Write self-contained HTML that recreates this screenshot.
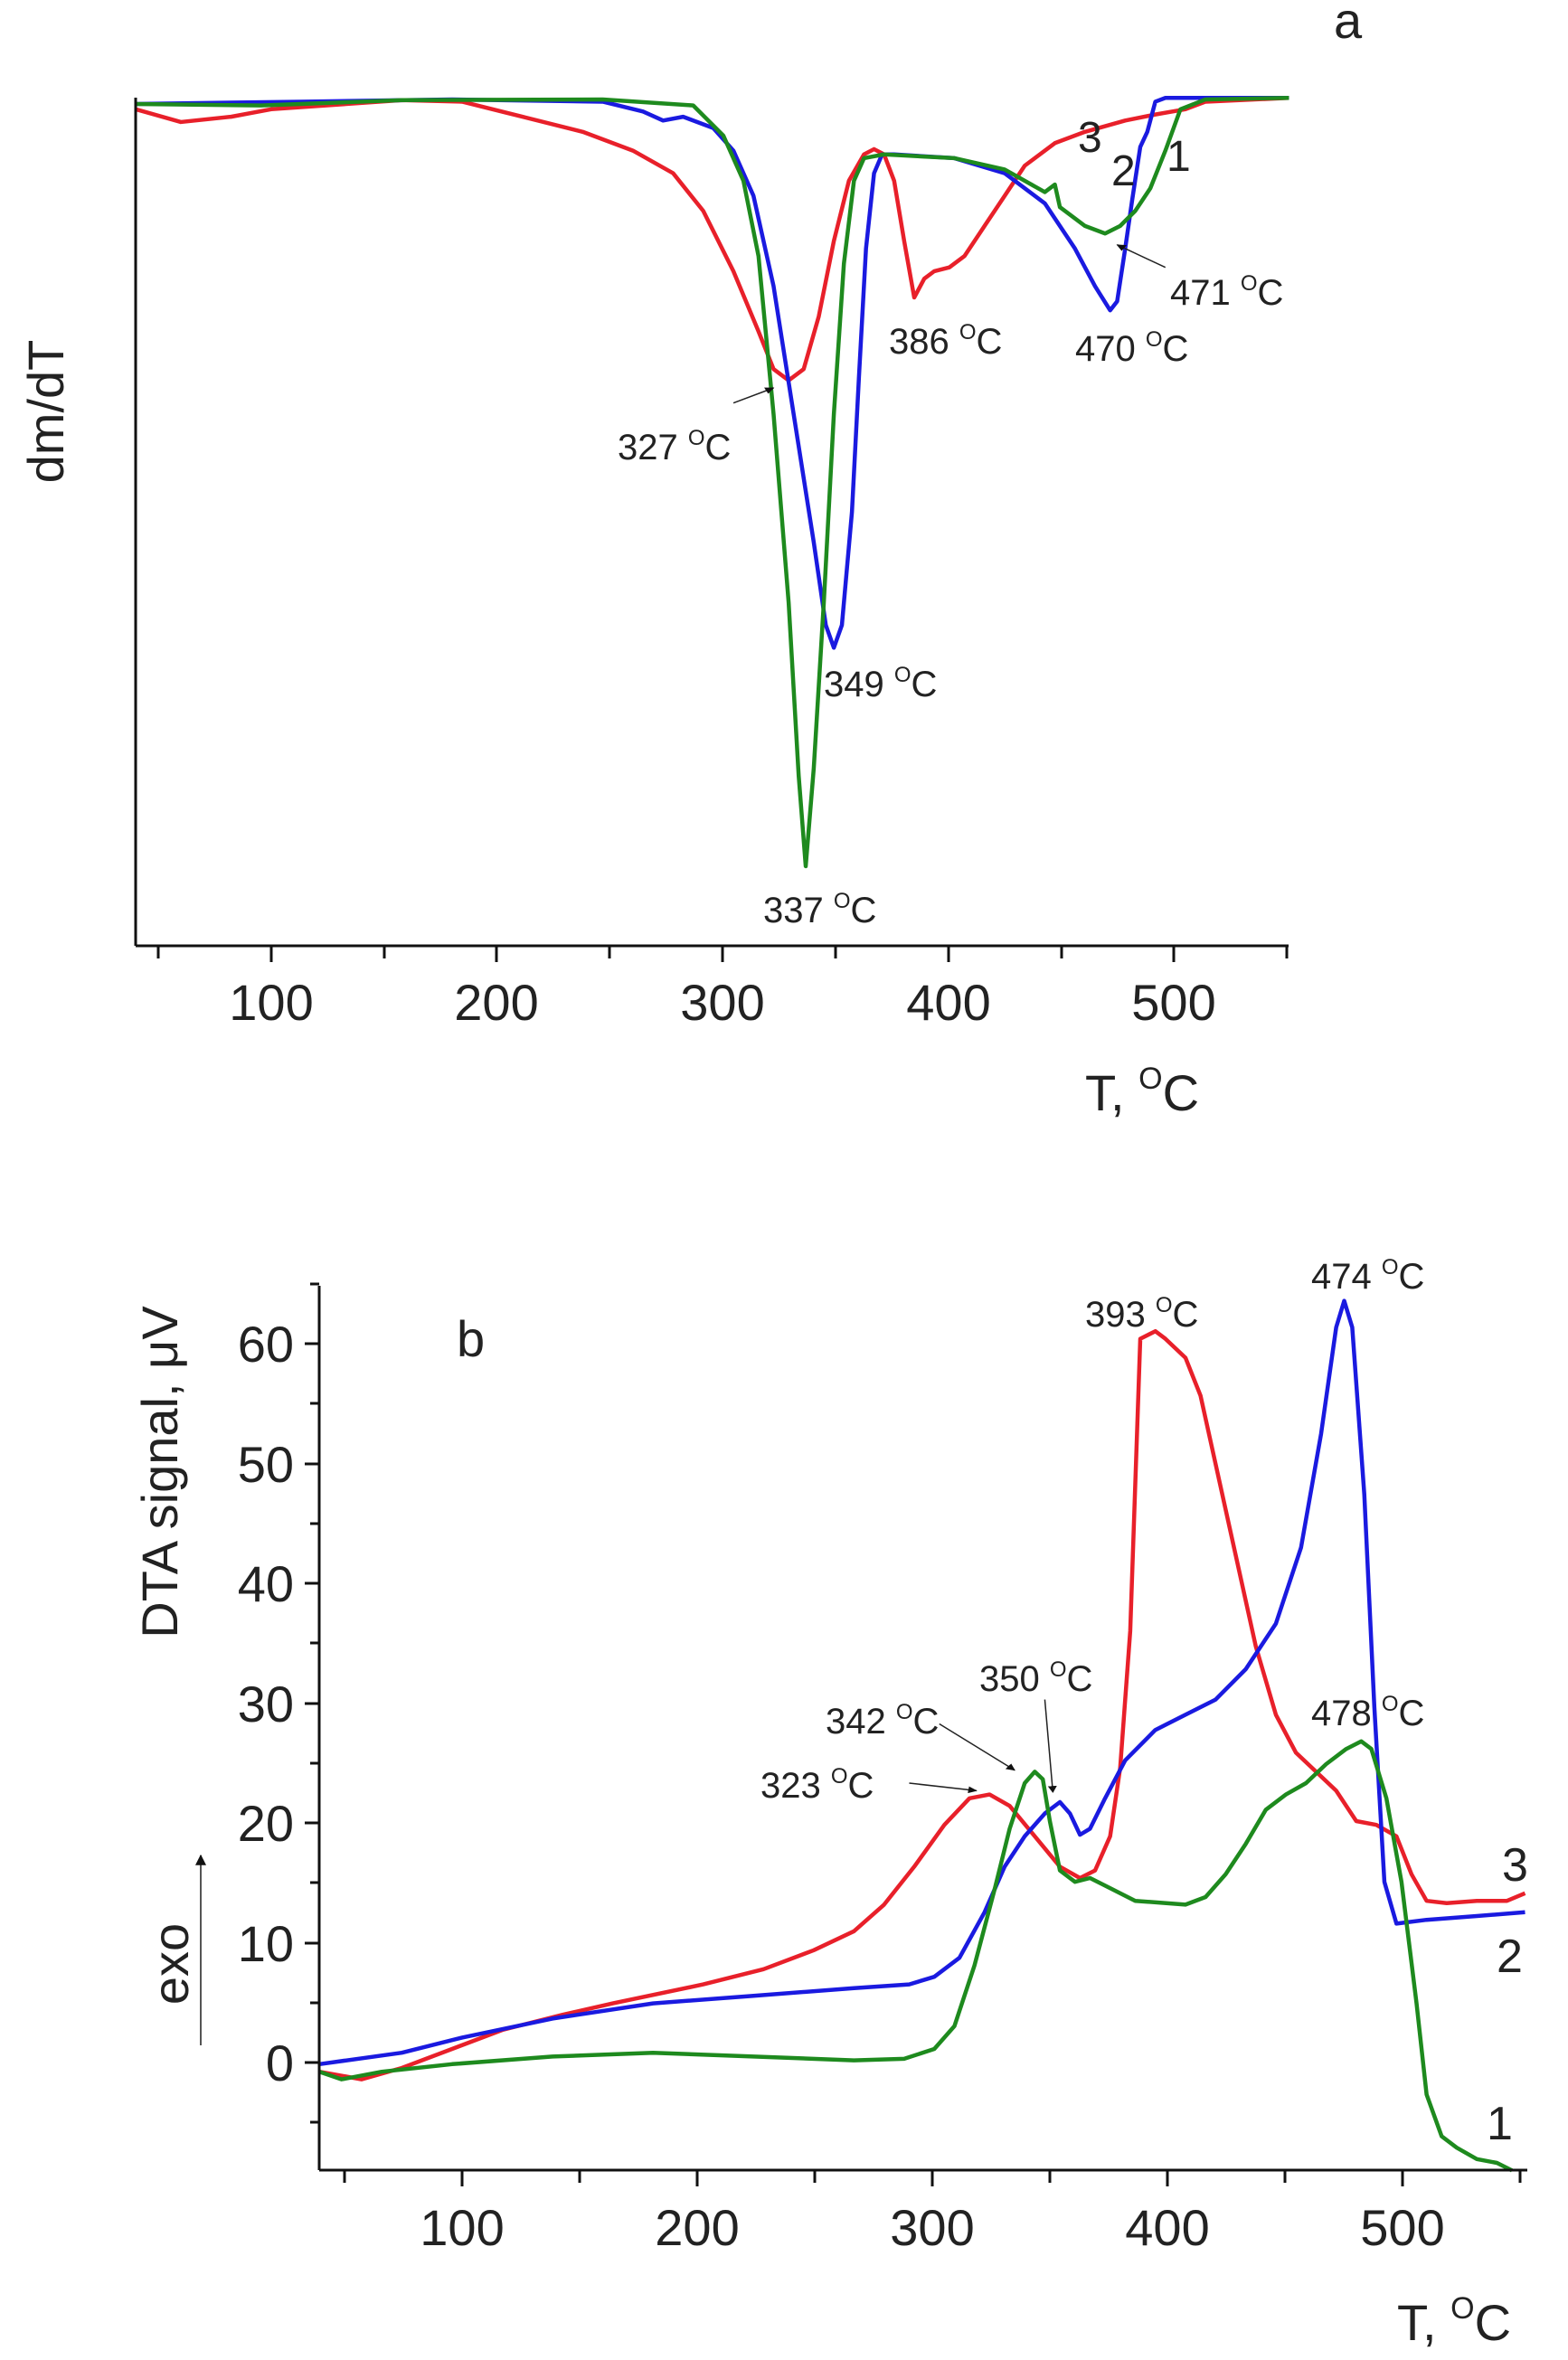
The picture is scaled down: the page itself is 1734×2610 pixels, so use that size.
<!DOCTYPE html>
<html><head><meta charset="utf-8"><style>
html,body{margin:0;padding:0;background:#fff;}
svg{display:block;}
text{font-family:"Liberation Sans",sans-serif;fill:#222;}
.lb{font-size:40px;}
.tk{font-size:56px;}
</style></head><body>
<svg width="1734" height="2610" viewBox="0 0 1734 2610" xmlns="http://www.w3.org/2000/svg">
<defs>
<marker id="ah" viewBox="0 0 10 10" refX="9" refY="5" markerWidth="6" markerHeight="6" orient="auto"><path d="M0,0L10,5L0,10z" fill="#111"/></marker>
</defs>
<!-- ===== Chart a ===== -->
<g transform="scale(1.111,0.833)" fill="none" stroke-width="4.5" stroke-linejoin="round">
<polyline vector-effect="non-scaling-stroke" stroke="#e8202a" points="135,145 180,162 230,155 270,145 400,133 460,135 520,155 580,175 630,200 670,230 700,280 730,360 755,440 770,490 785,505 800,490 815,420 830,320 845,240 860,205 870,198 880,205 890,240 900,320 910,395 920,370 930,360 945,355 960,340 980,300 1000,260 1020,220 1050,190 1080,175 1120,160 1150,152 1180,145 1200,135 1283,130"/>
<polyline vector-effect="non-scaling-stroke" stroke="#1a1ae0" points="135,138 300,135 450,132 600,135 640,148 660,160 680,155 710,170 730,200 750,260 770,380 790,550 810,720 822,830 830,860 838,830 848,680 855,500 862,330 870,230 878,205 890,205 950,210 1000,230 1040,270 1070,330 1090,380 1105,412 1112,400 1120,330 1127,265 1135,195 1142,175 1150,135 1160,130 1283,130"/>
<polyline vector-effect="non-scaling-stroke" stroke="#1e8a1e" points="135,138 260,140 400,133 600,132 690,140 720,180 740,240 755,340 770,550 785,800 795,1030 802,1150 810,1020 820,800 830,550 840,350 850,240 860,210 880,205 950,210 1000,225 1040,255 1050,245 1055,275 1080,300 1100,310 1115,300 1130,280 1145,250 1160,200 1175,145 1200,132 1283,130"/>
<line vector-effect="non-scaling-stroke" stroke="#222" stroke-width="1.5" x1="730" y1="535" x2="770" y2="515" marker-end="url(#ah)"/>
<line vector-effect="non-scaling-stroke" stroke="#222" stroke-width="1.5" x1="1160" y1="355" x2="1112" y2="325" marker-end="url(#ah)"/>
</g>
<g stroke="#111" stroke-width="3">
<line x1="150" y1="108" x2="150" y2="1046"/>
<line x1="150" y1="1046" x2="1425" y2="1046"/>
</g>
<g stroke="#111" stroke-width="3">
<line x1="175" y1="1046" x2="175" y2="1060"/><line x1="300" y1="1046" x2="300" y2="1064"/><line x1="425" y1="1046" x2="425" y2="1060"/><line x1="549" y1="1046" x2="549" y2="1064"/><line x1="674" y1="1046" x2="674" y2="1060"/><line x1="799" y1="1046" x2="799" y2="1064"/><line x1="924" y1="1046" x2="924" y2="1060"/><line x1="1049" y1="1046" x2="1049" y2="1064"/><line x1="1174" y1="1046" x2="1174" y2="1060"/><line x1="1298" y1="1046" x2="1298" y2="1064"/><line x1="1423" y1="1046" x2="1423" y2="1060"/>
</g>
<g class="tk" text-anchor="middle">
<text x="300" y="1128">100</text><text x="549" y="1128">200</text><text x="799" y="1128">300</text><text x="1049" y="1128">400</text><text x="1298" y="1128">500</text>
</g>
<text class="tk" x="1200" y="1228">T, <tspan font-size="34" dy="-24">O</tspan><tspan dy="24">C</tspan></text>
<text class="tk" x="1475" y="42">a</text>
<text class="tk" transform="translate(70,455) rotate(-90)" text-anchor="middle">dm/dT</text>
<g class="lb">
<text x="683" y="508">327 <tspan font-size="24" dy="-16">O</tspan><tspan dy="16">C</tspan></text>
<text x="911" y="770">349 <tspan font-size="24" dy="-16">O</tspan><tspan dy="16">C</tspan></text>
<text x="844" y="1020">337 <tspan font-size="24" dy="-16">O</tspan><tspan dy="16">C</tspan></text>
<text x="983" y="391">386 <tspan font-size="24" dy="-16">O</tspan><tspan dy="16">C</tspan></text>
<text x="1189" y="399">470 <tspan font-size="24" dy="-16">O</tspan><tspan dy="16">C</tspan></text>
<text x="1294" y="337">471 <tspan font-size="24" dy="-16">O</tspan><tspan dy="16">C</tspan></text>
</g>
<g font-size="48"><text x="1192" y="168">3</text><text x="1229" y="205">2</text><text x="1290" y="189">1</text></g>

<!-- ===== Chart b ===== -->
<g transform="translate(0,1300) scale(1.111,0.84)" fill="none" stroke-width="4.5" stroke-linejoin="round">
<polyline vector-effect="non-scaling-stroke" stroke="#e8202a" points="318,1180 360,1190 400,1175 450,1150 500,1125 560,1105 610,1090 700,1065 760,1045 810,1020 850,995 880,960 910,910 940,855 965,820 985,815 1005,830 1030,870 1055,910 1075,925 1090,915 1105,870 1115,780 1125,600 1135,215 1150,205 1160,215 1180,240 1195,290 1210,380 1230,500 1250,620 1270,710 1290,760 1310,785 1330,810 1350,850 1370,855 1390,870 1405,920 1420,955 1440,958 1470,955 1500,955 1518,945"/>
<polyline vector-effect="non-scaling-stroke" stroke="#1a1ae0" points="318,1170 400,1155 460,1135 550,1110 650,1090 750,1080 850,1070 905,1065 930,1055 955,1030 980,970 1000,910 1020,870 1040,840 1055,825 1065,840 1075,868 1085,860 1100,820 1120,770 1150,730 1180,710 1210,690 1240,650 1270,590 1295,490 1315,340 1330,200 1338,165 1346,200 1358,420 1368,700 1378,930 1390,985 1420,980 1470,975 1518,970"/>
<polyline vector-effect="non-scaling-stroke" stroke="#1e8a1e" points="318,1180 340,1190 380,1180 450,1170 550,1160 650,1155 750,1160 850,1165 900,1163 930,1150 950,1120 970,1040 990,940 1005,860 1020,800 1030,785 1038,795 1045,850 1055,915 1070,930 1085,925 1100,935 1130,955 1180,960 1200,950 1220,920 1240,880 1260,835 1280,815 1300,800 1320,775 1340,755 1355,745 1365,755 1380,820 1395,930 1410,1090 1420,1210 1435,1265 1450,1280 1470,1295 1490,1300 1505,1310"/>
<line vector-effect="non-scaling-stroke" stroke="#222" stroke-width="1.5" x1="1040" y1="690" x2="1048" y2="812" marker-end="url(#ah)"/>
<line vector-effect="non-scaling-stroke" stroke="#222" stroke-width="1.5" x1="935" y1="722" x2="1010" y2="783" marker-end="url(#ah)"/>
<line vector-effect="non-scaling-stroke" stroke="#222" stroke-width="1.5" x1="905" y1="800" x2="972" y2="810" marker-end="url(#ah)"/>
</g>
<g stroke="#111" stroke-width="3">
<line x1="353" y1="1422" x2="353" y2="2400"/>
<line x1="353" y1="2400" x2="1689" y2="2400"/>
</g>
<g stroke="#111" stroke-width="3">
<line x1="337" y1="1486" x2="353" y2="1486"/><line x1="343" y1="1552" x2="353" y2="1552"/>
<line x1="337" y1="1619" x2="353" y2="1619"/><line x1="343" y1="1685" x2="353" y2="1685"/>
<line x1="337" y1="1751" x2="353" y2="1751"/><line x1="343" y1="1817" x2="353" y2="1817"/>
<line x1="337" y1="1884" x2="353" y2="1884"/><line x1="343" y1="1950" x2="353" y2="1950"/>
<line x1="337" y1="2016" x2="353" y2="2016"/><line x1="343" y1="2082" x2="353" y2="2082"/>
<line x1="337" y1="2149" x2="353" y2="2149"/><line x1="343" y1="2215" x2="353" y2="2215"/>
<line x1="337" y1="2281" x2="353" y2="2281"/><line x1="343" y1="2347" x2="353" y2="2347"/>
<line x1="343" y1="1420" x2="353" y2="1420"/>
<line x1="381" y1="2400" x2="381" y2="2414"/><line x1="511" y1="2400" x2="511" y2="2418"/><line x1="641" y1="2400" x2="641" y2="2414"/><line x1="771" y1="2400" x2="771" y2="2418"/><line x1="901" y1="2400" x2="901" y2="2414"/><line x1="1031" y1="2400" x2="1031" y2="2418"/><line x1="1161" y1="2400" x2="1161" y2="2414"/><line x1="1291" y1="2400" x2="1291" y2="2418"/><line x1="1421" y1="2400" x2="1421" y2="2414"/><line x1="1551" y1="2400" x2="1551" y2="2418"/><line x1="1681" y1="2400" x2="1681" y2="2414"/>
</g>
<g class="tk" text-anchor="end">
<text x="325" y="1506">60</text><text x="325" y="1639">50</text><text x="325" y="1771">40</text><text x="325" y="1904">30</text><text x="325" y="2036">20</text><text x="325" y="2169">10</text><text x="325" y="2301">0</text>
</g>
<g class="tk" text-anchor="middle">
<text x="511" y="2483">100</text><text x="771" y="2483">200</text><text x="1031" y="2483">300</text><text x="1291" y="2483">400</text><text x="1551" y="2483">500</text>
</g>
<text class="tk" x="1545" y="2588">T, <tspan font-size="34" dy="-24">O</tspan><tspan dy="24">C</tspan></text>
<text class="tk" x="505" y="1500">b</text>
<text class="tk" transform="translate(196,1628) rotate(-90)" text-anchor="middle">DTA signal, μV</text>
<text class="tk" transform="translate(208,2172) rotate(-90)" text-anchor="middle">exo</text>
<line x1="222" y1="2262" x2="222" y2="2052" stroke="#555" stroke-width="2" marker-end="url(#ah)"/>
<g class="lb">
<text x="1200" y="1467">393 <tspan font-size="24" dy="-16">O</tspan><tspan dy="16">C</tspan></text>
<text x="1450" y="1425">474 <tspan font-size="24" dy="-16">O</tspan><tspan dy="16">C</tspan></text>
<text x="1083" y="1870">350 <tspan font-size="24" dy="-16">O</tspan><tspan dy="16">C</tspan></text>
<text x="913" y="1917">342 <tspan font-size="24" dy="-16">O</tspan><tspan dy="16">C</tspan></text>
<text x="841" y="1988">323 <tspan font-size="24" dy="-16">O</tspan><tspan dy="16">C</tspan></text>
<text x="1450" y="1908">478 <tspan font-size="24" dy="-16">O</tspan><tspan dy="16">C</tspan></text>
</g>
<g font-size="52"><text x="1661" y="2080">3</text><text x="1655" y="2181">2</text><text x="1644" y="2366">1</text></g>
</svg>
</body></html>
